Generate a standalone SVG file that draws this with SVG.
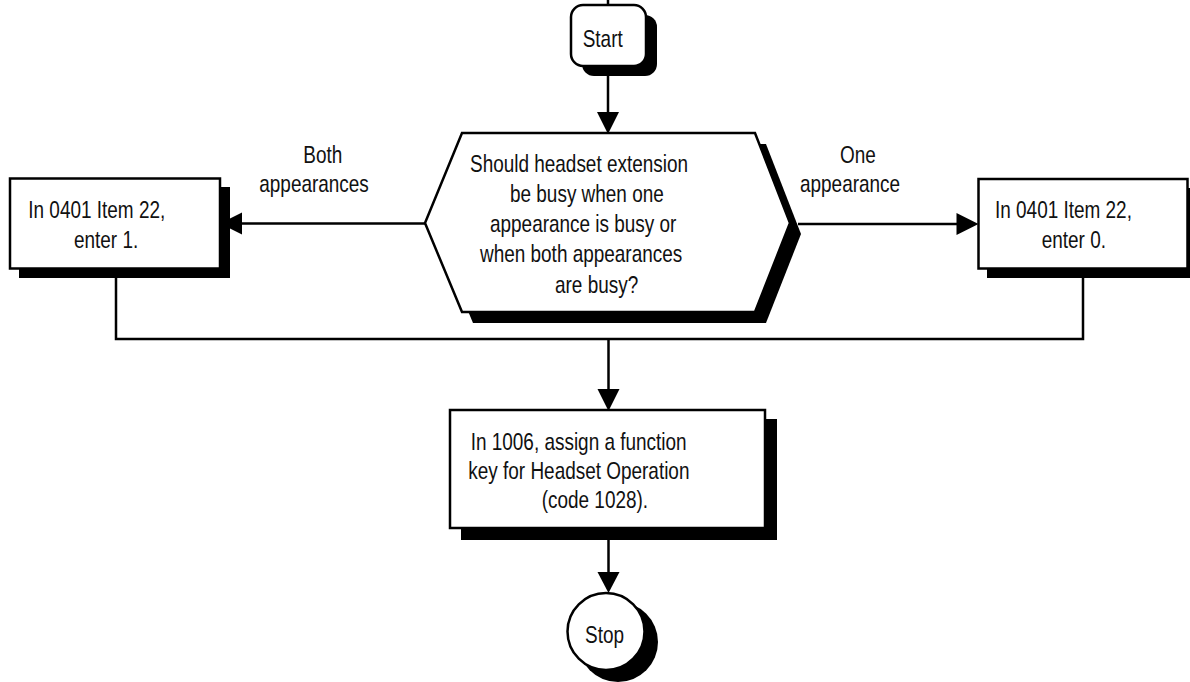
<svg xmlns="http://www.w3.org/2000/svg" width="1190" height="682" viewBox="0 0 1190 682">
  <style>
    .shape { fill: #ffffff; stroke: #000000; stroke-width: 2.5; }
    .shadow { fill: #000000; stroke: none; }
    .wire { fill: none; stroke: #000000; stroke-width: 2.5; }
    .head { fill: #000000; stroke: none; }
    text { font-family: "Liberation Sans", Arial, sans-serif; font-size: 24px; fill: #111111; }
  </style>

  <!-- connectors -->
  <g id="connectors">
    <line class="wire" x1="608" y1="0" x2="608" y2="6"/>
    <line class="wire" x1="608" y1="66" x2="608" y2="114"/>
    <polygon class="head" points="597,112 619,112 608,134"/>

    <line class="wire" x1="425" y1="223.5" x2="240" y2="223.5"/>
    <polygon class="head" points="242,212.5 242,234.5 220,223.5"/>

    <line class="wire" x1="798" y1="224" x2="958" y2="224"/>
    <polygon class="head" points="956.5,213 956.5,235 978.5,224"/>

    <polyline class="wire" points="116,268 116,339 1083,339 1083,268"/>
    <line class="wire" x1="608.5" y1="339" x2="608.5" y2="391"/>
    <polygon class="head" points="597.5,389 619.5,389 608.5,411"/>

    <line class="wire" x1="608.5" y1="528" x2="608.5" y2="574"/>
    <polygon class="head" points="597.5,572 619.5,572 608.5,593"/>
  </g>

  <!-- Start terminator -->
  <g id="start">
    <rect class="shadow" x="582" y="15" width="75" height="61" rx="12"/>
    <rect class="shape" x="571" y="5" width="75" height="61" rx="12"/>
    <text transform="translate(582.7,46.7) scale(0.79,1)">Start</text>
  </g>

  <!-- decision -->
  <g id="decision">
    <polygon class="shadow" points="473,144 766,144 801,234 766,323 473,323 436,234"/>
    <polygon class="shape" points="462,133 755,133 790,223 755,312 462,312 425,223"/>
    <text transform="translate(470,171.7) scale(0.79,1)">Should headset extension</text>
    <text transform="translate(510,201.7) scale(0.79,1)">be busy when one</text>
    <text transform="translate(490,231.7) scale(0.79,1)">appearance is busy or</text>
    <text transform="translate(480,261.7) scale(0.79,1)">when both appearances</text>
    <text transform="translate(555,292.5) scale(0.79,1)">are busy?</text>
  </g>

  <!-- branch labels -->
  <g id="label-both">
    <text transform="translate(303.3,163.3) scale(0.79,1)">Both</text>
    <text transform="translate(259.3,191.7) scale(0.79,1)">appearances</text>
  </g>
  <g id="label-one">
    <text transform="translate(840,162.7) scale(0.79,1)">One</text>
    <text transform="translate(800,191.7) scale(0.79,1)">appearance</text>
  </g>

  <!-- left process: enter 1 -->
  <g id="enter-1">
    <rect class="shadow" x="19" y="187" width="211" height="91"/>
    <rect class="shape" x="10" y="178.5" width="210" height="90"/>
    <text transform="translate(28.3,218.3) scale(0.79,1)">In 0401 Item 22,</text>
    <text transform="translate(74,248.3) scale(0.79,1)">enter 1.</text>
  </g>

  <!-- right process: enter 0 -->
  <g id="enter-0">
    <rect class="shadow" x="987" y="188" width="211" height="90"/>
    <rect class="shape" x="978.5" y="179" width="209" height="89.5"/>
    <text transform="translate(995,218.3) scale(0.79,1)">In 0401 Item 22,</text>
    <text transform="translate(1041.7,248.3) scale(0.79,1)">enter 0.</text>
  </g>

  <!-- function key assignment -->
  <g id="assign-key">
    <rect class="shadow" x="461" y="419" width="316" height="121"/>
    <rect class="shape" x="450" y="410" width="315" height="118"/>
    <text transform="translate(470.7,450) scale(0.79,1)">In 1006, assign a function</text>
    <text transform="translate(468.3,479.3) scale(0.79,1)">key for Headset Operation</text>
    <text transform="translate(541.7,508) scale(0.79,1)">(code 1028).</text>
  </g>

  <!-- Stop terminator -->
  <g id="stop">
    <circle class="shadow" cx="618" cy="642" r="40"/>
    <circle class="shape" cx="606" cy="631.5" r="38.5"/>
    <text transform="translate(585,643.3) scale(0.79,1)">Stop</text>
  </g>
</svg>
